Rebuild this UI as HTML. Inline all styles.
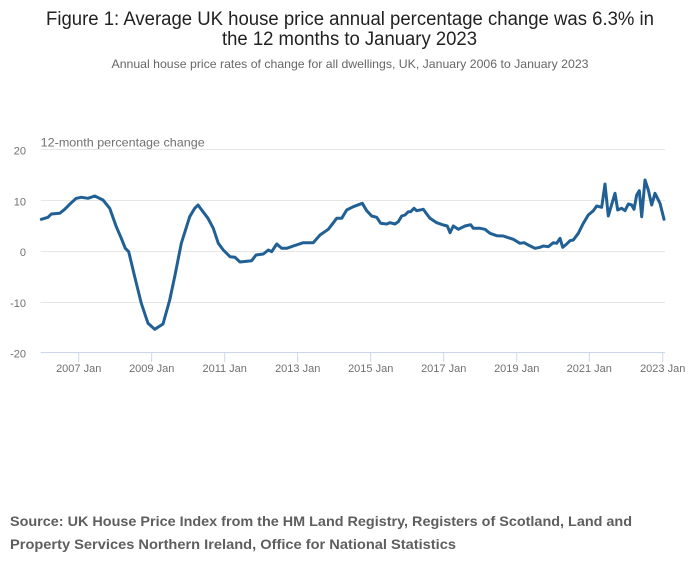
<!DOCTYPE html>
<html>
<head>
<meta charset="utf-8">
<style>
  html, body { margin: 0; padding: 0; background: #ffffff; }
  body { width: 700px; height: 574px; overflow: hidden; }
  svg { display: block; }
  text { font-family: "Liberation Sans", "DejaVu Sans", sans-serif; }
</style>
</head>
<body>
<svg width="700" height="574" viewBox="0 0 700 574" xmlns="http://www.w3.org/2000/svg">
  <rect x="0" y="0" width="700" height="574" fill="#ffffff"/>

  <!-- Title -->
  <text x="46" y="25" font-size="19" fill="#222222" textLength="608" lengthAdjust="spacingAndGlyphs">Figure 1: Average UK house price annual percentage change was 6.3% in</text>
  <text x="349.5" y="45" font-size="19" fill="#222222" text-anchor="middle" textLength="255" lengthAdjust="spacingAndGlyphs">the 12 months to January 2023</text>
  <text x="350" y="68" font-size="12" fill="#666666" text-anchor="middle" textLength="477" lengthAdjust="spacingAndGlyphs">Annual house price rates of change for all dwellings, UK, January 2006 to January 2023</text>

  <!-- Y axis title -->
  <text x="40.7" y="146.7" font-size="12" fill="#707070" textLength="164" lengthAdjust="spacingAndGlyphs">12-month percentage change</text>

  <!-- Gridlines -->
  <g stroke="#e6e6e6" stroke-width="1">
    <line x1="40.7" y1="149.5" x2="665" y2="149.5"/>
    <line x1="40.7" y1="200.5" x2="665" y2="200.5"/>
    <line x1="40.7" y1="251.5" x2="665" y2="251.5"/>
    <line x1="40.7" y1="302.5" x2="665" y2="302.5"/>
  </g>
  <!-- X axis line -->
  <line x1="40.7" y1="352.5" x2="665" y2="352.5" stroke="#ccd6eb" stroke-width="1"/>
  <g stroke="#ccd6eb" stroke-width="1">
    <line x1="78.7" y1="352.5" x2="78.7" y2="362"/>
    <line x1="151.7" y1="352.5" x2="151.7" y2="362"/>
    <line x1="224.7" y1="352.5" x2="224.7" y2="362"/>
    <line x1="297.7" y1="352.5" x2="297.7" y2="362"/>
    <line x1="370.7" y1="352.5" x2="370.7" y2="362"/>
    <line x1="443.7" y1="352.5" x2="443.7" y2="362"/>
    <line x1="516.7" y1="352.5" x2="516.7" y2="362"/>
    <line x1="589.3" y1="352.5" x2="589.3" y2="362"/>
    <line x1="662.7" y1="352.5" x2="662.7" y2="362"/>
  </g>

  <!-- Y tick labels -->
  <g font-size="11" fill="#707070" text-anchor="end">
    <text x="26" y="154.3">20</text>
    <text x="26" y="205.3">10</text>
    <text x="26" y="255.8">0</text>
    <text x="26" y="306.8">-10</text>
    <text x="26" y="357.3">-20</text>
  </g>

  <!-- X tick labels -->
  <g font-size="11" fill="#707070" text-anchor="middle">
    <text x="78.7" y="372">2007 Jan</text>
    <text x="151.7" y="372">2009 Jan</text>
    <text x="224.7" y="372">2011 Jan</text>
    <text x="297.7" y="372">2013 Jan</text>
    <text x="370.7" y="372">2015 Jan</text>
    <text x="443.7" y="372">2017 Jan</text>
    <text x="516.7" y="372">2019 Jan</text>
    <text x="589.3" y="372">2021 Jan</text>
    <text x="662.7" y="372">2023 Jan</text>
  </g>

  <!-- Series -->
  <polyline fill="none" stroke="#206095" stroke-width="3" stroke-linejoin="round" stroke-linecap="round"
    points="41.3,219.3 48,217.3 51.3,214 59.7,213.3 64.7,209.3 71.3,202.7 76.3,198.3 81.3,197.3 88,198.3 94.7,196 103,200 109.7,208.3 116.3,226.7 121.3,238.3 125.3,248.3 128.7,251.7 134.7,276.7 141.3,303.3 148,323.3 154.7,329.3 163,324 169.7,300 174.7,276.7 181.3,243.3 189.7,216.7 194.7,208.3 198,205 203,211.7 208,218.3 213.3,228.3 218.3,243.3 223.3,250 230,256.7 235,257.3 240,262 251.7,260.7 256,255 263.3,254 268.3,250 271.7,251.7 276.7,244 281.7,248.3 286.7,248.3 293.3,246 303.3,242.7 313.3,242.7 320,235 328.3,229.3 336.7,218.3 341.7,218.3 346.7,210 353.3,206.7 362.3,203.3 366.7,210.7 371.7,216 376.7,217.3 380.7,223.3 386.7,224 390,222.7 395,224 398.3,221.7 401.7,216 405,215 408.3,211.7 410.7,211.7 414,208.3 416.7,210.7 423.3,209.3 426.7,214 430,218.3 436.7,222.7 443.3,225 447.3,226 450,232.7 453.3,226 458.3,229.3 465,226 470.7,224.7 473.3,228.3 480,228.3 485,229.3 490,233.3 496.7,235.7 503.3,236 508.3,237.7 513.3,239.3 520,243.3 524,242.7 528.3,245 535,248.3 540,247.3 543.3,246 548.3,246.7 553.3,242.7 556.7,243.3 560,238.3 562.7,247.3 566.7,244 570,240.7 573.3,240 578.3,233.3 583.3,223.3 588.3,215 593.3,210.7 596.7,206 601.7,207.3 605,184 608.3,216 615,193.3 617.7,210 621.7,208.3 625,210.7 628.3,204 631.7,205 634,209.3 636.7,195 639.3,190.7 641.7,216.7 645,180 648.3,190 651.7,205 655,193.3 660,203.3 664,219.3"/>

  <!-- Source -->
  <g font-size="14" font-weight="bold" fill="#5e5e5e">
    <text x="10" y="526" textLength="622" lengthAdjust="spacingAndGlyphs">Source: UK House Price Index from the HM Land Registry, Registers of Scotland, Land and</text>
    <text x="10" y="549" textLength="446" lengthAdjust="spacingAndGlyphs">Property Services Northern Ireland, Office for National Statistics</text>
  </g>
</svg>
</body>
</html>
